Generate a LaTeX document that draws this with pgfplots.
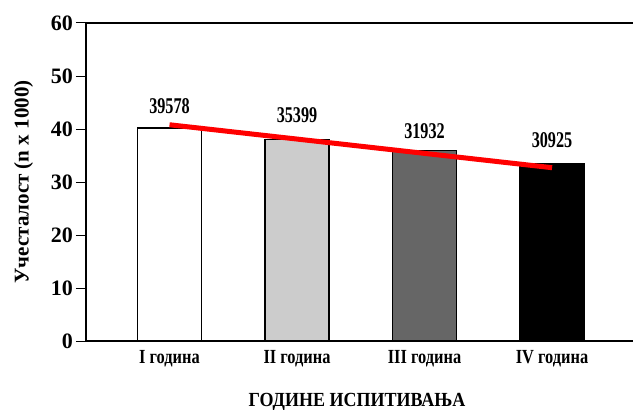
\documentclass[border=0pt]{standalone}
\usepackage{fontspec}
\setmainfont{Liberation Serif}
\newfontfamily\condfont[FakeStretch=0.82]{Liberation Serif}
\newfontfamily\numfont[FakeStretch=0.72]{Liberation Serif}
\newfontfamily\xlabfont[FakeStretch=0.9]{Liberation Serif}
\usepackage{pgfplots}
\pgfplotsset{compat=1.18}
\definecolor{lgray}{RGB}{204,204,204}
\definecolor{dgray}{RGB}{102,102,102}
\definecolor{lred}{RGB}{255,0,0}
\begin{document}
\begin{tikzpicture}
\begin{axis}[name=ax,
  scale only axis, width=547bp, height=318bp,
  xmin=-0.655, xmax=3.635, ymin=0, ymax=60,
  axis x line*=box, axis y line*=left,
  axis line style={line width=1.5bp, black},
  ytick={0,10,20,30,40,50,60},
  xtick={0,1,2,3},
  xticklabels={I година, II година, III година, IV година},
  major x tick style={draw=none},
  major y tick style={line width=1bp, black},
  major tick length=10bp, tick align=outside,
  /pgf/number format/assume math mode=true,
  yticklabel style={font=\fontsize{22bp}{24bp}\selectfont\bfseries, inner sep=3bp},
  xticklabel style={font=\condfont\fontsize{20bp}{22bp}\selectfont\bfseries, anchor=center, yshift=-8bp},
  ylabel={Учесталост (n x 1000)},
  ylabel style={at={(axis description cs:-0.114,0.5)}, anchor=center, font=\fontsize{21bp}{23bp}\selectfont\bfseries},
  xlabel={ГОДИНЕ ИСПИТИВАЊА},
  xlabel style={at={(axis description cs:0.4954,-0.193)}, anchor=center, font=\xlabfont\fontsize{20bp}{22bp}\selectfont\bfseries},
  point meta=explicit symbolic,
  nodes near coords={\pgfplotspointmeta},
  every node near coord/.append style={font=\numfont\fontsize{22.5bp}{24bp}\selectfont\bfseries, anchor=center},
]
\addplot[ybar, bar width=64bp, bar shift=0pt, fill=white, draw=black, line width=1.2bp,
  every node near coord/.append style={yshift=22bp}] coordinates {(0,40.2) [39578]};
\addplot[ybar, bar width=64bp, bar shift=0pt, fill=lgray, draw=black, line width=1.2bp,
  every node near coord/.append style={yshift=24bp}] coordinates {(1,38.0) [35399]};
\addplot[ybar, bar width=64bp, bar shift=0pt, fill=dgray, draw=black, line width=1.2bp,
  every node near coord/.append style={yshift=19bp}] coordinates {(2,36.0) [31932]};
\addplot[ybar, bar width=64bp, bar shift=0pt, fill=black, draw=black, line width=1.2bp,
  every node near coord/.append style={yshift=23bp}] coordinates {(3,33.5) [30925]};
\addplot[lred, line width=5bp, no marks, nodes near coords={}] coordinates {(0,40.8) (3,32.7)};
\end{axis}
\pgfresetboundingbox
\path[use as bounding box] ([shift={(-86bp,-69bp)}]ax.south west) rectangle ([shift={(0bp,23bp)}]ax.north east);
\end{tikzpicture}
\end{document}
